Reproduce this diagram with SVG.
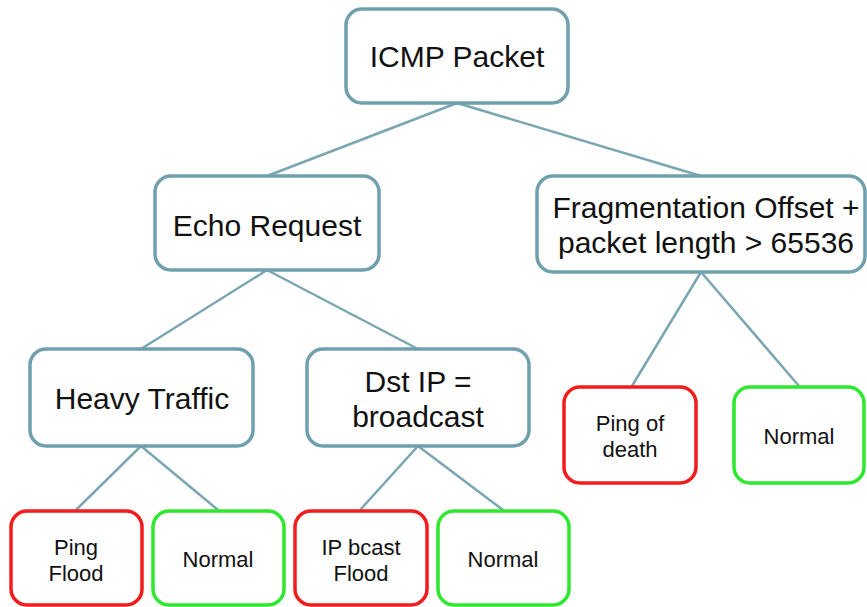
<svg xmlns="http://www.w3.org/2000/svg" width="867" height="607" viewBox="0 0 867 607">
<style>
text{font-family:"Liberation Sans",Arial,sans-serif;fill:#111;text-anchor:middle}
.b{fill:#fff;stroke:#70a0ad;stroke-width:3.5}
.r{fill:#fff;stroke:#f21c1c;stroke-width:3.5}
.g{fill:#fff;stroke:#2ee82e;stroke-width:3.5}
.big{font-size:30px}
.sm{font-size:22px}
#edges line{stroke:#7aa6b2;stroke-width:2.5}
</style>
<rect width="867" height="607" fill="#fff"/>
<g id="edges">
<line x1="457" y1="103" x2="267" y2="176"/>
<line x1="457" y1="103" x2="701" y2="176"/>
<line x1="267" y1="270" x2="141" y2="349"/>
<line x1="267" y1="270" x2="418" y2="349"/>
<line x1="141" y1="446" x2="76" y2="510"/>
<line x1="141" y1="446" x2="218" y2="510"/>
<line x1="418" y1="446" x2="360" y2="510"/>
<line x1="418" y1="446" x2="503" y2="510"/>
<line x1="701" y1="272" x2="632" y2="386"/>
<line x1="701" y1="272" x2="799" y2="386"/>
</g>
<g id="icmp"><rect class="b" x="346" y="9" width="222" height="94" rx="16"/><text class="big" x="457" y="67">ICMP Packet</text></g>
<g id="echo"><rect class="b" x="155" y="176" width="224" height="94" rx="16"/><text class="big" x="267" y="236">Echo Request</text></g>
<g id="frag"><rect class="b" x="537" y="176" width="328" height="96" rx="16"/><text class="big" x="706" y="218">Fragmentation Offset +</text><text class="big" x="706" y="253">packet length &gt; 65536</text></g>
<g id="heavy"><rect class="b" x="30" y="349" width="223" height="97" rx="16"/><text class="big" x="142" y="409">Heavy Traffic</text></g>
<g id="dst"><rect class="b" x="307" y="349" width="222" height="97" rx="16"/><text class="big" x="418" y="392">Dst IP =</text><text class="big" x="418" y="427">broadcast</text></g>
<g id="pingflood"><rect class="r" x="11" y="511" width="131" height="94" rx="16"/><text class="sm" x="76" y="555">Ping</text><text class="sm" x="76" y="581">Flood</text></g>
<g id="normal1"><rect class="g" x="153" y="511" width="131" height="94" rx="16"/><text class="sm" x="218" y="567">Normal</text></g>
<g id="bcast"><rect class="r" x="295" y="511" width="132" height="94" rx="16"/><text class="sm" x="361" y="555">IP bcast</text><text class="sm" x="361" y="581">Flood</text></g>
<g id="normal2"><rect class="g" x="438" y="511" width="131" height="94" rx="16"/><text class="sm" x="503" y="567">Normal</text></g>
<g id="pod"><rect class="r" x="564" y="387" width="132" height="96" rx="16"/><text class="sm" x="630" y="431">Ping of</text><text class="sm" x="630" y="457">death</text></g>
<g id="normal3"><rect class="g" x="734" y="387" width="130" height="96" rx="16"/><text class="sm" x="799" y="444">Normal</text></g>
</svg>
